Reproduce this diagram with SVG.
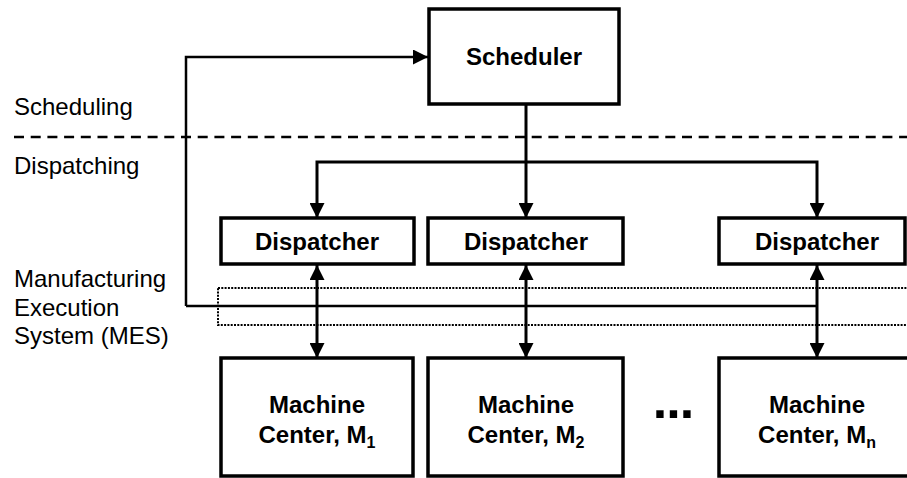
<svg xmlns="http://www.w3.org/2000/svg" width="907" height="478" viewBox="0 0 907 478">
<defs>
<style>
.box{fill:#fff;stroke:#000;stroke-width:3.5}
.bt{font-family:"Liberation Sans",Arial,sans-serif;font-weight:bold;font-size:24px;text-anchor:middle;fill:#000}
.lbl{font-family:"Liberation Sans",Arial,sans-serif;font-size:24px;fill:#000}
.sub{font-size:16px}
.dots{font-size:52px;letter-spacing:-1px}
.ln{fill:none;stroke:#000;stroke-width:2.5}
.ln3{fill:none;stroke:#000;stroke-width:3}
</style>
<marker id="ah" viewBox="0 0 10 10" refX="10" refY="5" markerWidth="15" markerHeight="15" markerUnits="userSpaceOnUse" orient="auto-start-reverse">
<path d="M0,0 L10,5 L0,10 Z" fill="#000"/>
</marker>
</defs>
<rect width="907" height="478" fill="#fff"/>
<g id="labels">
<text class="lbl" x="14" y="115">Scheduling</text>
<text class="lbl" x="14" y="174">Dispatching</text>
<text class="lbl" x="14" y="287">Manufacturing</text>
<text class="lbl" x="14" y="316">Execution</text>
<text class="lbl" x="14" y="344">System (MES)</text>
</g>
<g id="separators">
<line x1="14" y1="137" x2="907" y2="137" stroke="#000" stroke-width="2.5" stroke-dasharray="10 6.7"/>
<rect id="mes-band" x="218" y="288" width="700" height="37" fill="none" stroke="#000" stroke-width="2" stroke-dasharray="2 1.3"/>
</g>
<g id="connectors">
<path class="ln" d="M186,306 V57 H428" marker-end="url(#ah)"/>
<line class="ln" x1="186" y1="306" x2="817" y2="306"/>
<path class="ln3" d="M526,105 V162"/>
<path class="ln3" d="M526,162 H317 V218" marker-end="url(#ah)"/>
<path class="ln3" d="M526,162 V218" marker-end="url(#ah)"/>
<path class="ln3" d="M526,162 H817 V218" marker-end="url(#ah)"/>
<line class="ln3" x1="317" y1="265" x2="317" y2="358" marker-start="url(#ah)" marker-end="url(#ah)"/>
<line class="ln3" x1="526" y1="265" x2="526" y2="358" marker-start="url(#ah)" marker-end="url(#ah)"/>
<line class="ln3" x1="817" y1="265" x2="817" y2="358" marker-start="url(#ah)" marker-end="url(#ah)"/>
</g>
<g id="scheduler">
<rect class="box" x="429" y="9" width="190" height="95"/>
<text class="bt" x="524" y="65">Scheduler</text>
</g>
<g id="dispatcher1">
<rect class="box" x="221" y="218" width="193" height="46"/>
<text class="bt" x="317" y="250">Dispatcher</text>
</g>
<g id="dispatcher2">
<rect class="box" x="428" y="218" width="195" height="46"/>
<text class="bt" x="526" y="250">Dispatcher</text>
</g>
<g id="dispatcher3">
<rect class="box" x="719" y="218" width="186" height="46"/>
<text class="bt" x="817" y="250">Dispatcher</text>
</g>
<g id="machine1">
<rect class="box" x="221" y="358" width="192" height="118"/>
<text class="bt" x="317" y="413">Machine</text>
<text class="bt" x="317" y="443">Center, M<tspan class="sub" dy="5">1</tspan></text>
</g>
<g id="machine2">
<rect class="box" x="428" y="358" width="195" height="118"/>
<text class="bt" x="526" y="413">Machine</text>
<text class="bt" x="526" y="443">Center, M<tspan class="sub" dy="5">2</tspan></text>
</g>
<g id="ellipsis">
<text class="bt dots" x="673" y="418">...</text>
</g>
<g id="machine3">
<rect class="box" x="719" y="358" width="200" height="118"/>
<text class="bt" x="817" y="413">Machine</text>
<text class="bt" x="817" y="443">Center, M<tspan class="sub" dy="5">n</tspan></text>
</g>
</svg>
